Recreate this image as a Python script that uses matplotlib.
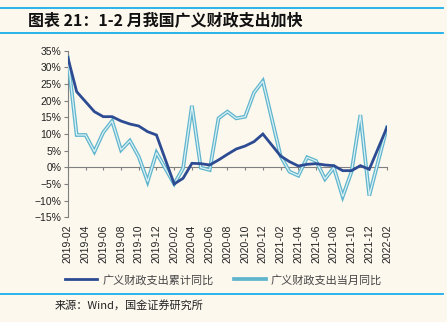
import matplotlib
matplotlib.use("Agg")
import matplotlib.pyplot as plt
from matplotlib.lines import Line2D

plt.rcParams['font.family'] = ['Liberation Sans', 'Noto Sans CJK SC', 'DejaVu Sans']

# months 2019-02 .. 2022-02 (January has no data point)
months = [f"{y}-{m:02d}" for y in (2019, 2020, 2021, 2022) for m in range(1, 13)][1:38]
tick_labels = ["2019-02", "2019-04", "2019-06", "2019-08", "2019-10", "2019-12",
               "2020-02", "2020-04", "2020-06", "2020-08", "2020-10", "2020-12",
               "2021-02", "2021-04", "2021-06", "2021-08", "2021-10", "2021-12",
               "2022-02"]

# 广义财政支出累计同比 (%)
cum_yoy = [33.0, 22.7, 19.7, 16.7, 15.2, 15.2, 13.9, 13.0, 12.4, 10.7, 9.7, None,
           -5.0, -3.3, 1.2, 1.1, 0.7, 2.2, 3.9, 5.5, 6.4, 7.7, 10.0, None,
           3.4, 1.7, 0.4, 0.9, 1.1, 0.7, 0.5, -1.0, -1.0, 0.5, -0.6, None,
           12.0]
# 广义财政支出当月同比 (%)
mon_yoy = [33.0, 9.7, 9.7, 4.7, 10.5, 13.9, 5.2, 8.0, 3.2, -4.3, 4.4, None,
           -5.0, -0.3, 18.5, -0.1, -0.8, 14.7, 16.7, 14.7, 15.2, 22.4, 25.9, None,
           3.4, -1.3, -2.5, 3.0, 1.9, -3.5, -0.1, -8.8, -1.3, 15.7, -8.5, None,
           12.0]

bg = "#fcf8ee"
dark = "#2c4b92"
light_out = "#5fb5cd"
light_in = "#dcf1f5"
sep = "#1aaeea"

fig = plt.figure(figsize=(4.47, 3.22), dpi=100, facecolor=bg)
ax = fig.add_axes([67.8 / 447, (322 - 217.3) / 322, (387 - 67.8) / 447, (217.3 - 50.7) / 322])
ax.set_facecolor(bg)


def pts(vals):
    xs = [i for i, v in enumerate(vals) if v is not None]
    ys = [v for v in vals if v is not None]
    return xs, ys


mx, my = pts(mon_yoy)
ax.plot(mx, my, color=light_out, lw=2.7, solid_joinstyle="miter", zorder=3)
ax.plot(mx, my, color=light_in, lw=0.9, solid_joinstyle="miter", zorder=4)
cx, cy = pts(cum_yoy)
ax.plot(cx, cy, color=dark, lw=2.0, solid_joinstyle="miter", zorder=5)

ax.set_xlim(0, len(months) - 1)
ax.set_ylim(-15, 35)
ax.set_yticks(range(-15, 36, 5))
ax.set_yticklabels([f"{v}%".replace("-", "\u2212") for v in range(-15, 36, 5)])
ax.set_xticks([months.index(t) for t in tick_labels])
ax.set_xticklabels(tick_labels)

for s in ("top", "right"):
    ax.spines[s].set_visible(False)
ax.spines["bottom"].set_position(("data", 0))
ax.spines["bottom"].set_color("#808080")
ax.spines["left"].set_color("#808080")
ax.spines["left"].set_bounds(-15, 35)
ax.tick_params(axis="y", direction="out", length=3, width=0.8, color="#808080",
               labelsize=7.5, pad=1.5, labelcolor="#222222")
ax.tick_params(axis="x", direction="out", length=2.5, width=0.8, color="#808080",
               labelsize=7.5, pad=38.5, labelcolor="#222222", labelrotation=90)

handles = [Line2D([], [], color=dark, lw=2.0),
           Line2D([], [], color=light_out, lw=2.7)]
leg = fig.legend(handles, ["广义财政支出累计同比", "广义财政支出当月同比"],
                 loc="center", bbox_to_anchor=(0.5, 1 - 280 / 322), ncol=2,
                 frameon=False, handlelength=2.9, handletextpad=0.45,
                 columnspacing=1.8,
                 prop={"family": ["Noto Sans CJK SC"], "size": 8})
for t in leg.get_texts():
    t.set_color("#444444")

fig.add_artist(Line2D([0, 443 / 447], [1 - 8 / 322] * 2, color=sep, lw=1.3))
fig.add_artist(Line2D([0, 443 / 447], [1 - 33 / 322] * 2, color=sep, lw=1.3))
fig.add_artist(Line2D([0, 443 / 447], [1 - 294 / 322] * 2, color=sep, lw=1.3))

fig.text(28 / 447, 1 - 20.5 / 322, "图表 21：1-2 月我国广义财政支出加快",
         family=["Noto Sans CJK SC"], fontsize=11.5, fontweight="bold",
         va="center", ha="left", color="#111111")
fig.text(55 / 447, 1 - 305 / 322, "来源：Wind，国金证券研究所",
         family=["Noto Sans CJK SC", "Liberation Sans"], fontsize=8,
         va="center", ha="left", color="#222222")

fig.savefig("out.png", dpi=100, facecolor=bg)
